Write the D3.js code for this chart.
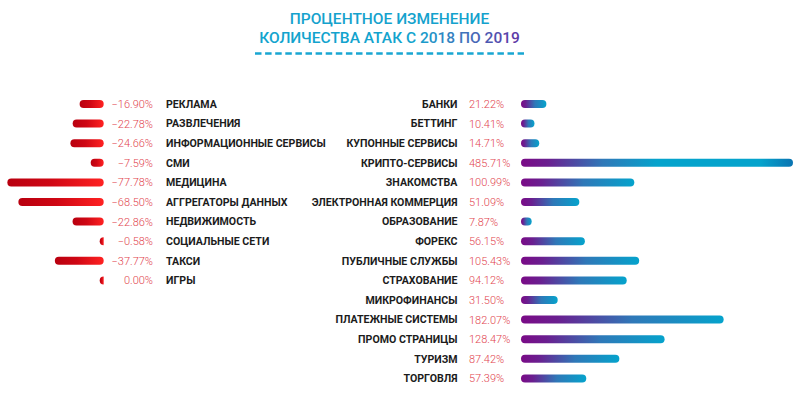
<!DOCTYPE html>
<html><head><meta charset="utf-8">
<script src="https://cdn.jsdelivr.net/npm/d3@7"></script>
<style>html,body{margin:0;padding:0;background:#fff;}svg{display:block;}</style>
</head><body>
<svg id="chart" width="800" height="394"></svg>
<script>
const titleLines = ["ПРОЦЕНТНОЕ ИЗМЕНЕНИЕ", "КОЛИЧЕСТВА АТАК С 2018 ПО 2019"];

const decCategories = ["РЕКЛАМА","РАЗВЛЕЧЕНИЯ","ИНФОРМАЦИОННЫЕ СЕРВИСЫ","СМИ","МЕДИЦИНА","АГГРЕГАТОРЫ ДАННЫХ","НЕДВИЖИМОСТЬ","СОЦИАЛЬНЫЕ СЕТИ","ТАКСИ","ИГРЫ"];
const decValues = [-16.90,-22.78,-24.66,-7.59,-77.78,-68.50,-22.86,-0.58,-37.77,0.00];

const incCategories = ["БАНКИ","БЕТТИНГ","КУПОННЫЕ СЕРВИСЫ","КРИПТО-СЕРВИСЫ","ЗНАКОМСТВА","ЭЛЕКТРОННАЯ КОММЕРЦИЯ","ОБРАЗОВАНИЕ","ФОРЕКС","ПУБЛИЧНЫЕ СЛУЖБЫ","СТРАХОВАНИЕ","МИКРОФИНАНСЫ","ПЛАТЕЖНЫЕ СИСТЕМЫ","ПРОМО СТРАНИЦЫ","ТУРИЗМ","ТОРГОВЛЯ"];
const incValues = [21.22,10.41,14.71,485.71,100.99,51.09,7.87,56.15,105.43,94.12,31.50,182.07,128.47,87.42,57.39];

const svg = d3.select("#chart");
const defs = svg.append("defs");

const fmt = v => (v < 0 ? "\u2212" : "") + Math.abs(v).toFixed(2) + "%";

// gradients
const gRed = defs.append("linearGradient").attr("id","gRed").attr("x1","0").attr("x2","1").attr("y1","0").attr("y2","0");
gRed.append("stop").attr("offset","0").attr("stop-color","#b8000f");
gRed.append("stop").attr("offset","0.45").attr("stop-color","#cf0714");
gRed.append("stop").attr("offset","1").attr("stop-color","#ff2222");

const gBlue = defs.append("linearGradient").attr("id","gBlue").attr("x1","0").attr("x2","1").attr("y1","0").attr("y2","0");
gBlue.append("stop").attr("offset","0").attr("stop-color","#7a0a86");
gBlue.append("stop").attr("offset","0.18").attr("stop-color","#6a1f90");
gBlue.append("stop").attr("offset","0.55").attr("stop-color","#2f78b8");
gBlue.append("stop").attr("offset","1").attr("stop-color","#05a3cc");

const gBlueLong = defs.append("linearGradient").attr("id","gBlueLong").attr("x1","0").attr("x2","1").attr("y1","0").attr("y2","0");
gBlueLong.append("stop").attr("offset","0").attr("stop-color","#7a0a86");
gBlueLong.append("stop").attr("offset","0.1").attr("stop-color","#6a1f90");
gBlueLong.append("stop").attr("offset","0.3").attr("stop-color","#2f78b8");
gBlueLong.append("stop").attr("offset","0.5").attr("stop-color","#05a3cc");
gBlueLong.append("stop").attr("offset","0.88").attr("stop-color","#05a3cc");
gBlueLong.append("stop").attr("offset","1").attr("stop-color","#0a74b2");

const titleX = 389.5;
const gTitle = defs.append("linearGradient").attr("id","gTitle").attr("gradientUnits","userSpaceOnUse")
  .attr("x1",415).attr("x2",515).attr("y1",0).attr("y2",0);
gTitle.append("stop").attr("offset","0").attr("stop-color","#14a2cd");
gTitle.append("stop").attr("offset","0.45").attr("stop-color","#3d78bd");
gTitle.append("stop").attr("offset","1").attr("stop-color","#5b3aa6");

// title
svg.append("text").attr("x",titleX).attr("y",24).attr("text-anchor","middle")
  .attr("font-family","Roboto").attr("font-weight",500).attr("font-size",15.5)
  .attr("fill","#14a2cd").text(titleLines[0]);
svg.append("text").attr("x",titleX).attr("y",43).attr("text-anchor","middle")
  .attr("font-family","Roboto").attr("font-weight",500).attr("font-size",15.5)
  .attr("fill","url(#gTitle)").text(titleLines[1]);
svg.append("line").attr("x1",255).attr("x2",524).attr("y1",53.5).attr("y2",53.5)
  .attr("stroke","#19a6d2").attr("stroke-width",2.5).attr("stroke-dasharray","6.5 3.6");

// scales
const yInc = d3.scaleBand().domain(incCategories).range([94.2, 388.2]).padding(0);
const yDec = d3.scaleBand().domain(decCategories).range([94.2, 94.2 + 19.6*decCategories.length]).padding(0);
const xDec = d3.scaleLinear().domain([0, 80]).range([4, 99]);
const xInc = d3.scaleLinear().domain([0, 245]).range([2, 272]).clamp(true);

const R = 4;
function capsuleLeft(xEnd, w, cy) {
  if (w < 2*R) {
    return `M${xEnd},${cy-R} A${R},${R} 0 0 0 ${xEnd},${cy+R} Z`;
  }
  const x0 = xEnd - w;
  return `M${x0+R},${cy-R} L${xEnd-R},${cy-R} A${R},${R} 0 0 1 ${xEnd-R},${cy+R} L${x0+R},${cy+R} A${R},${R} 0 0 1 ${x0+R},${cy-R} Z`;
}
function capsuleRight(x0, w, cy) {
  w = Math.max(w, 2*R + 2);
  const xEnd = x0 + w;
  return `M${x0+R},${cy-R} L${xEnd-R},${cy-R} A${R},${R} 0 0 1 ${xEnd-R},${cy+R} L${x0+R},${cy+R} A${R},${R} 0 0 1 ${x0+R},${cy-R} Z`;
}

const labelSize = 10.6, valueSize = 11;

// left (decrease)
const decData = decCategories.map((c,i)=>({c, v: decValues[i]}));
const gl = svg.append("g");
const leftEnd = 103.7;
gl.selectAll("path.bar").data(decData).join("path").attr("class","bar")
  .attr("d", d => capsuleLeft(leftEnd, Math.abs(d.v) < 1 ? 0 : xDec(Math.abs(d.v)), yDec(d.c) + yDec.bandwidth()/2))
  .attr("fill","url(#gRed)");
gl.selectAll("text.val").data(decData).join("text").attr("class","val")
  .attr("x",153).attr("y", d => yDec(d.c) + yDec.bandwidth()/2).attr("dy","0.36em")
  .attr("text-anchor","end").attr("font-family","Roboto").attr("font-weight",300).attr("font-size",valueSize)
  .attr("fill","#e2454f").text(d => fmt(d.v));
gl.selectAll("text.lab").data(decData).join("text").attr("class","lab")
  .attr("x",166).attr("y", d => yDec(d.c) + yDec.bandwidth()/2).attr("dy","0.36em")
  .attr("font-family","Roboto").attr("font-weight",700).attr("font-size",labelSize)
  .attr("fill","#1c1c1c").text(d => d.c);

// right (increase)
const incData = incCategories.map((c,i)=>({c, v: incValues[i]}));
const gr = svg.append("g");
const rightStart = 521;
gr.selectAll("path.bar").data(incData).join("path").attr("class","bar")
  .attr("d", d => capsuleRight(rightStart, xInc(d.v), yInc(d.c) + yInc.bandwidth()/2))
  .attr("fill", d => d.v > xInc.domain()[1] ? "url(#gBlueLong)" : "url(#gBlue)");
gr.selectAll("text.val").data(incData).join("text").attr("class","val")
  .attr("x",469).attr("y", d => yInc(d.c) + yInc.bandwidth()/2).attr("dy","0.36em")
  .attr("font-family","Roboto").attr("font-weight",300).attr("font-size",valueSize)
  .attr("fill","#e2454f").text(d => fmt(d.v));
gr.selectAll("text.lab").data(incData).join("text").attr("class","lab")
  .attr("x",457.5).attr("y", d => yInc(d.c) + yInc.bandwidth()/2).attr("dy","0.36em")
  .attr("text-anchor","end").attr("font-family","Roboto").attr("font-weight",700).attr("font-size",labelSize)
  .attr("fill","#1c1c1c").text(d => d.c);
</script>
</body></html>
